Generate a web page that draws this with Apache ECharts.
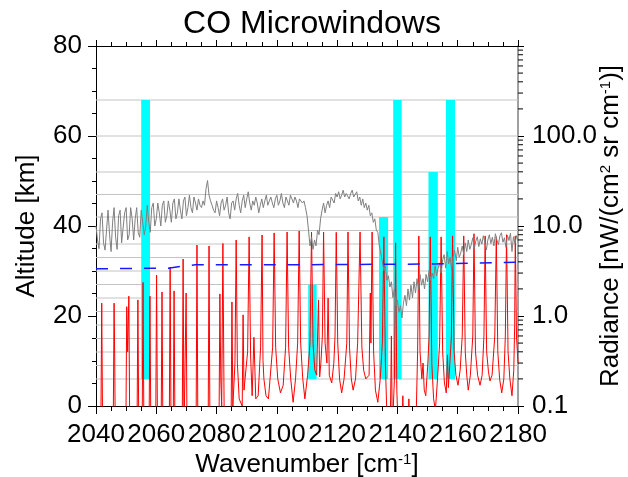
<!DOCTYPE html>
<html>
<head>
<meta charset="utf-8">
<script src="https://cdn.jsdelivr.net/npm/echarts@6/dist/echarts.min.js"></script>
<style>
  html, body { margin: 0; padding: 0; background: #fff; }
  #chart { width: 628px; height: 477px; }
</style>
</head>
<body>
<div id="chart"></div>
<script>
// ---- data ----
const FONT = 'Liberation Sans, Arial, sans-serif';

// retrieval altitude levels (gray horizontal lines), km
const gridAltitudes = [6, 9, 12, 15, 18, 21, 24, 27, 30, 33, 36, 39, 42, 47, 52, 60, 68];

// microwindows: [wn start, wn end, alt bottom, alt top]
const windowStart = [2055.0, 2110.4, 2133.9, 2138.6, 2150.3, 2156.1];
const windowEnd = [2057.9, 2113.2, 2136.9, 2141.4, 2153.4, 2159.1];
const windowBottom = [6, 6, 6, 6, 6, 6];
const windowTop = [68, 27, 42, 68, 52, 68];

// measured spectrum (gray), every 0.5 cm-1 from 2040 to 2180
const grayStart = 2040;
const grayStep = 0.5;
const grayRadiance = [
  10, 7, 5.6, 12, 14, 6.5, 5.4, 9, 15, 8,
  5.2, 11, 16, 7.5, 5.5, 13, 15, 6.5, 6.2, 14,
  16, 7, 8, 16, 12, 7, 12, 16, 8.5, 7.5,
  15, 15, 8, 10, 17, 11, 8.5, 16, 18, 10,
  12, 18, 14, 10, 17, 19, 11, 13, 19, 15,
  11, 18, 20, 12, 14, 20, 15, 12, 19, 21,
  13, 16, 22, 16, 14, 21, 18, 15, 20, 17,
  16, 19, 17, 26, 32, 22, 19, 17, 15, 14,
  19, 16, 13, 18, 20, 15, 17, 21, 14, 12,
  18, 19, 15, 20, 23, 17, 14, 19, 22, 16,
  20, 24, 18, 15, 19, 17, 21, 18, 14, 17,
  20, 16, 19, 22, 17, 19, 21, 18, 16, 20,
  22, 17, 19, 23, 18, 16, 21, 19, 17, 22,
  20, 18, 21, 19, 16, 20, 21, 18, 19, 16,
  13, 9, 6, 7.5, 5.5, 7, 6, 9, 8, 12,
  15, 18, 14, 17, 19, 16, 21, 22, 18, 23,
  21, 24, 20, 22, 25, 21, 23, 24, 20, 23,
  25, 21, 22, 24, 19, 21, 17, 20, 16, 18,
  15, 17, 13, 14, 11, 12, 9, 8.5, 6, 5,
  4, 3.2, 3.6, 2.5, 2.8, 2.1, 2.4, 1.6, 2.0, 1.3,
  1.5, 1.1, 1.3, 0.95, 1.4, 1.7, 1.3, 2.0, 1.5, 2.2,
  1.6, 2.4, 1.8, 2.6, 2.0, 2.9, 2.2, 2.6, 2.0, 2.9,
  2.4, 3.2, 2.5, 3.0, 2.6, 3.6, 2.8, 3.4, 3.9, 3.0,
  4.2, 4.8, 3.4, 5.2, 3.8, 4.5, 3.2, 4.6, 5.4, 4.1,
  5.8, 4.5, 5.0, 6.0, 4.8, 6.5, 5.2, 7.0, 5.5, 6.2,
  7.4, 5.6, 6.8, 7.6, 5.9, 7.2, 6.3, 7.8, 6.6, 5.4,
  7.0, 8.0, 6.4, 7.5, 6.0, 8.2, 7.0, 6.2, 7.8, 8.4,
  6.6, 7.4, 5.8, 7.9, 6.9, 8.3, 5.2, 7.6, 6.4, 7.8,
  6.8
];

// simulated spectrum (red): [wavenumber, radiance]
const redSpectrum = [
  [2040, 0.05],
  [2041.6, 0.05], [2041.9, 1.39], [2042.2, 0.05],
  [2045.7, 0.05], [2046.0, 1.39], [2046.2, 0.35], [2046.4, 0.05],
  [2049.9, 0.05], [2050.2, 1.27], [2050.5, 0.4], [2050.9, 1.66], [2051.2, 0.05],
  [2053.6, 0.05], [2053.9, 1.51], [2054.2, 0.05],
  [2055.3, 0.05], [2055.6, 2.36], [2055.9, 0.05],
  [2057.6, 0.05], [2057.9, 1.66], [2058.2, 0.05],
  [2059.8, 0.05], [2060.1, 2.85], [2060.4, 0.05],
  [2061.6, 0.05], [2061.9, 1.85], [2062.2, 0.05],
  [2064.3, 0.05], [2064.6, 3.49], [2064.9, 0.05],
  [2065.6, 0.05], [2065.9, 1.90], [2066.2, 0.05],
  [2068.6, 0.05], [2068.9, 4.30], [2069.2, 0.05],
  [2069.6, 0.05], [2069.9, 1.80], [2070.2, 0.05],
  [2073.2, 0.05], [2073.5, 6.15], [2073.8, 0.05],
  [2077.2, 0.05], [2077.5, 6.0], [2077.8, 0.05],
  [2080.8, 0.05], [2081.1, 1.76], [2081.4, 0.2], [2081.7, 0.1], [2082.1, 6.4], [2082.5, 0.1],
  [2084.8, 0.05], [2085.1, 1.43], [2085.4, 0.1], [2086.1, 0.3], [2086.5, 6.99], [2086.9, 0.3], [2087.5, 0.12],
  [2088.5, 0.1], [2088.8, 1.03], [2089.1, 0.15], [2090.3, 0.4], [2090.8, 7.57], [2091.3, 0.35], [2091.8, 0.13],
  [2092.4, 0.58], [2093.0, 0.12], [2093.8, 0.13], [2094.6, 0.45], [2095.1, 7.94], [2095.4, 0.32], [2095.7, 0.2],
  [2096.4, 0.13], [2097.2, 0.12], [2098.6, 0.45], [2099.1, 8.38], [2099.6, 0.45], [2100.3, 0.2], [2101.2, 0.14],
  [2102.1, 0.17], [2102.9, 0.45], [2103.4, 8.58], [2103.9, 0.45], [2104.6, 0.2], [2105.4, 0.11], [2106.2, 0.2],
  [2106.9, 0.5], [2107.4, 8.8], [2107.9, 0.5], [2108.6, 0.2], [2109.3, 0.12], [2110.2, 0.22], [2111.0, 0.5],
  [2111.5, 8.58], [2112.0, 0.5], [2112.6, 0.25], [2113.2, 0.22], [2113.8, 1.51], [2114.2, 0.21], [2114.6, 0.3],
  [2115.1, 0.6], [2115.5, 8.58], [2116.0, 0.5], [2116.6, 0.3], [2117.0, 1.58], [2117.4, 0.22], [2118.2, 0.18],
  [2118.9, 0.3], [2119.3, 0.6], [2119.7, 8.5], [2120.2, 0.5], [2120.8, 0.2], [2121.5, 0.14], [2122.3, 0.2],
  [2123.2, 0.5], [2123.6, 8.58], [2124.1, 0.45], [2124.7, 0.2], [2125.3, 0.15], [2126.1, 0.2], [2126.8, 0.5],
  [2127.6, 8.58], [2128.2, 0.45], [2128.8, 0.25], [2129.5, 0.2], [2130.6, 0.22], [2131.0, 1.8], [2131.2, 0.5],
  [2131.6, 8.58], [2132.1, 0.4], [2132.7, 0.15], [2133.5, 0.11], [2134.3, 0.2], [2135.0, 0.5], [2135.5, 7.57],
  [2136.0, 0.3], [2136.5, 0.08], [2137.6, 0.05], [2138.0, 0.6], [2138.3, 0.05], [2139.0, 0.2], [2139.4, 6.5],
  [2139.8, 0.15], [2140.3, 0.05], [2141.5, 0.05], [2141.8, 0.13], [2142.1, 0.05], [2143.5, 0.05], [2143.8, 0.12],
  [2144.1, 0.05], [2146.3, 0.1], [2146.7, 0.4], [2147.1, 7.76], [2147.5, 0.4], [2148.1, 0.2], [2148.5, 0.3],
  [2148.9, 0.15], [2149.4, 0.13], [2150.1, 0.3], [2150.5, 0.6], [2150.9, 7.57], [2151.4, 0.3], [2152.0, 0.12],
  [2152.6, 0.09], [2153.3, 0.2], [2154.0, 0.5], [2154.5, 7.57], [2155.0, 0.4], [2155.6, 0.18], [2156.2, 0.14],
  [2156.6, 0.37], [2156.9, 0.16], [2157.4, 0.3], [2157.9, 0.6], [2158.3, 7.76], [2158.8, 0.4], [2159.4, 0.22],
  [2160.1, 0.17], [2160.8, 0.25], [2161.5, 0.6], [2162.0, 7.76], [2162.5, 0.4], [2163.0, 0.22], [2163.5, 0.15],
  [2164.2, 0.22], [2165.0, 0.6], [2165.4, 8.2], [2165.9, 0.4], [2166.6, 0.22], [2167.4, 0.17], [2168.1, 0.22],
  [2168.7, 0.6], [2169.1, 7.76], [2169.6, 0.4], [2170.2, 0.24], [2170.7, 0.19], [2171.4, 0.22], [2172.3, 0.6],
  [2172.8, 7.57], [2173.3, 0.4], [2173.9, 0.2], [2174.6, 0.14], [2175.3, 0.2], [2175.8, 0.6], [2176.2, 8.0],
  [2176.7, 0.4], [2177.3, 0.2], [2178.0, 0.13], [2178.6, 0.25], [2178.9, 0.8], [2179.1, 7.76], [2179.5, 0.6],
  [2180, 0.3]
];

// blue dashed level: [wavenumber, radiance]
const blueLevel = [
  [2040, 3.35], [2064, 3.4], [2069, 3.6], [2073, 3.7], [2110, 3.72], [2150, 3.78], [2180, 3.95]
];

// right axis minor tick values
const logMinorTicks = [0.2, 0.3, 0.4, 0.5, 0.6, 0.7, 0.8, 0.9,
  2, 3, 4, 5, 6, 7, 8, 9, 20, 30, 40, 50, 60, 70, 80, 90,
  200, 300, 400, 500, 600, 700, 800, 900];

// ---- chart ----
const chart = echarts.init(document.getElementById('chart'));

const grayData = grayRadiance.map((v, i) => [grayStart + i * grayStep, v]);
const windows = windowStart.map((s, i) => [s, windowEnd[i], windowBottom[i], windowTop[i]]);

const supRich = {
  sup: { fontSize: 15, verticalAlign: 'top', fontFamily: FONT, color: '#000', padding: [0, 0, 10, 0] }
};

const tickStyle = { color: '#000', width: 1 };

chart.setOption({
  animation: false,
  backgroundColor: '#fff',
  title: {
    text: 'CO Microwindows',
    left: 307,
    top: 3,
    textAlign: 'center',
    textStyle: { fontFamily: FONT, fontSize: 32, fontWeight: 'normal', color: '#000' }
  },
  grid: { left: 96, right: 110, top: 46, bottom: 71, outerBoundsMode: 'none', containLabel: false },
  xAxis: [
    {
      type: 'value',
      position: 'bottom',
      min: 2040,
      max: 2180,
      interval: 20,
      axisLine: { onZero: false, lineStyle: tickStyle },
      axisTick: { inside: false, length: 8, lineStyle: tickStyle },
      minorTick: { show: true, splitNumber: 4, length: 5, lineStyle: tickStyle },
      splitLine: { show: false },
      axisLabel: {
        fontFamily: FONT, fontSize: 26, color: '#000', margin: 16,
        showMinLabel: true, showMaxLabel: true, hideOverlap: false,
        formatter: v => String(v)
      },
      name: 'Wavenumber [cm{sup|-1}]',
      nameLocation: 'middle',
      nameGap: 46,
      nameMoveOverlap: false,
      nameTextStyle: { fontFamily: FONT, fontSize: 26, color: '#000', rich: supRich }
    },
    {
      type: 'value',
      position: 'top',
      min: 2040,
      max: 2180,
      interval: 20,
      axisLine: { onZero: false, lineStyle: tickStyle },
      axisTick: { inside: false, length: 6, lineStyle: tickStyle },
      minorTick: { show: true, splitNumber: 4, length: 4, lineStyle: tickStyle },
      splitLine: { show: false },
      axisLabel: { show: false }
    }
  ],
  yAxis: [
    {
      type: 'value',
      position: 'left',
      min: 0,
      max: 80,
      interval: 20,
      axisLine: { show: true, onZero: false, lineStyle: tickStyle },
      axisTick: { show: true, inside: false, length: 8, lineStyle: tickStyle },
      minorTick: { show: true, splitNumber: 4, length: 4, lineStyle: tickStyle },
      splitLine: { show: false },
      axisLabel: { fontFamily: FONT, fontSize: 26, color: '#000', margin: 14, showMinLabel: true, showMaxLabel: true },
      name: 'Altitude [km]',
      nameLocation: 'middle',
      nameRotate: 90,
      nameGap: 56,
      nameMoveOverlap: false,
      nameTextStyle: { fontFamily: FONT, fontSize: 26, color: '#000' }
    },
    {
      type: 'log',
      logBase: 10,
      position: 'right',
      min: 0.1,
      max: 1000,
      axisLine: { show: true, onZero: false, lineStyle: { color: '#808080', width: 1.5 } },
      axisTick: { show: true, inside: false, length: 6, lineStyle: tickStyle },
      splitLine: { show: false },
      axisLabel: {
        fontFamily: FONT,
        fontSize: 26,
        color: '#000',
        margin: 14,
        showMinLabel: true,
        formatter: v => (v >= 999 ? '' : Number(v).toFixed(1))
      },
      name: 'Radiance [nW/(cm{sup|2} sr cm{sup|-1})]',
      nameLocation: 'middle',
      nameRotate: 90,
      nameGap: 80,
      nameMoveOverlap: false,
      nameTextStyle: { fontFamily: FONT, fontSize: 26, color: '#000', rich: supRich }
    }
  ],
  series: [
    {
      // retrieval level grid lines
      type: 'custom',
      xAxisIndex: 0,
      yAxisIndex: 0,
      silent: true,
      z: 1,
      data: gridAltitudes.map(a => [a]),
      renderItem(params, api) {
        const a = api.value(0);
        const p1 = api.coord([2040, a]);
        const p2 = api.coord([2180, a]);
        return {
          type: 'line',
          shape: { x1: p1[0], y1: p1[1], x2: p2[0], y2: p2[1] },
          style: { stroke: '#c4c4c4', lineWidth: 1 }
        };
      }
    },
    {
      // microwindows
      type: 'custom',
      xAxisIndex: 0,
      yAxisIndex: 0,
      silent: true,
      z: 2,
      data: windows,
      renderItem(params, api) {
        const p1 = api.coord([api.value(0), api.value(3)]);
        const p2 = api.coord([api.value(1), api.value(2)]);
        return {
          type: 'rect',
          shape: { x: p1[0], y: p1[1], width: p2[0] - p1[0], height: p2[1] - p1[1] },
          style: { fill: '#00ffff' }
        };
      }
    },
    {
      type: 'line',
      xAxisIndex: 0,
      yAxisIndex: 1,
      z: 3,
      data: redSpectrum,
      showSymbol: false,
      clip: true,
      lineStyle: { color: '#ff0000', width: 1 }
    },
    {
      type: 'line',
      xAxisIndex: 0,
      yAxisIndex: 1,
      z: 4,
      data: grayData,
      showSymbol: false,
      clip: true,
      lineStyle: { color: '#808080', width: 1 }
    },
    {
      type: 'line',
      xAxisIndex: 0,
      yAxisIndex: 1,
      z: 5,
      data: blueLevel,
      showSymbol: false,
      clip: true,
      lineStyle: { color: '#1a1aff', width: 1.5, type: [12, 12] }
    },
    {
      // log minor ticks on the right axis
      type: 'custom',
      xAxisIndex: 0,
      yAxisIndex: 1,
      silent: true,
      z: 6,
      data: logMinorTicks.map(v => [2180, v]),
      renderItem(params, api) {
        const p = api.coord([api.value(0), api.value(1)]);
        return {
          type: 'line',
          shape: { x1: p[0], y1: p[1], x2: p[0] + 5, y2: p[1] },
          style: { stroke: '#000', lineWidth: 1 }
        };
      }
    }
  ]
});
</script>
</body>
</html>
